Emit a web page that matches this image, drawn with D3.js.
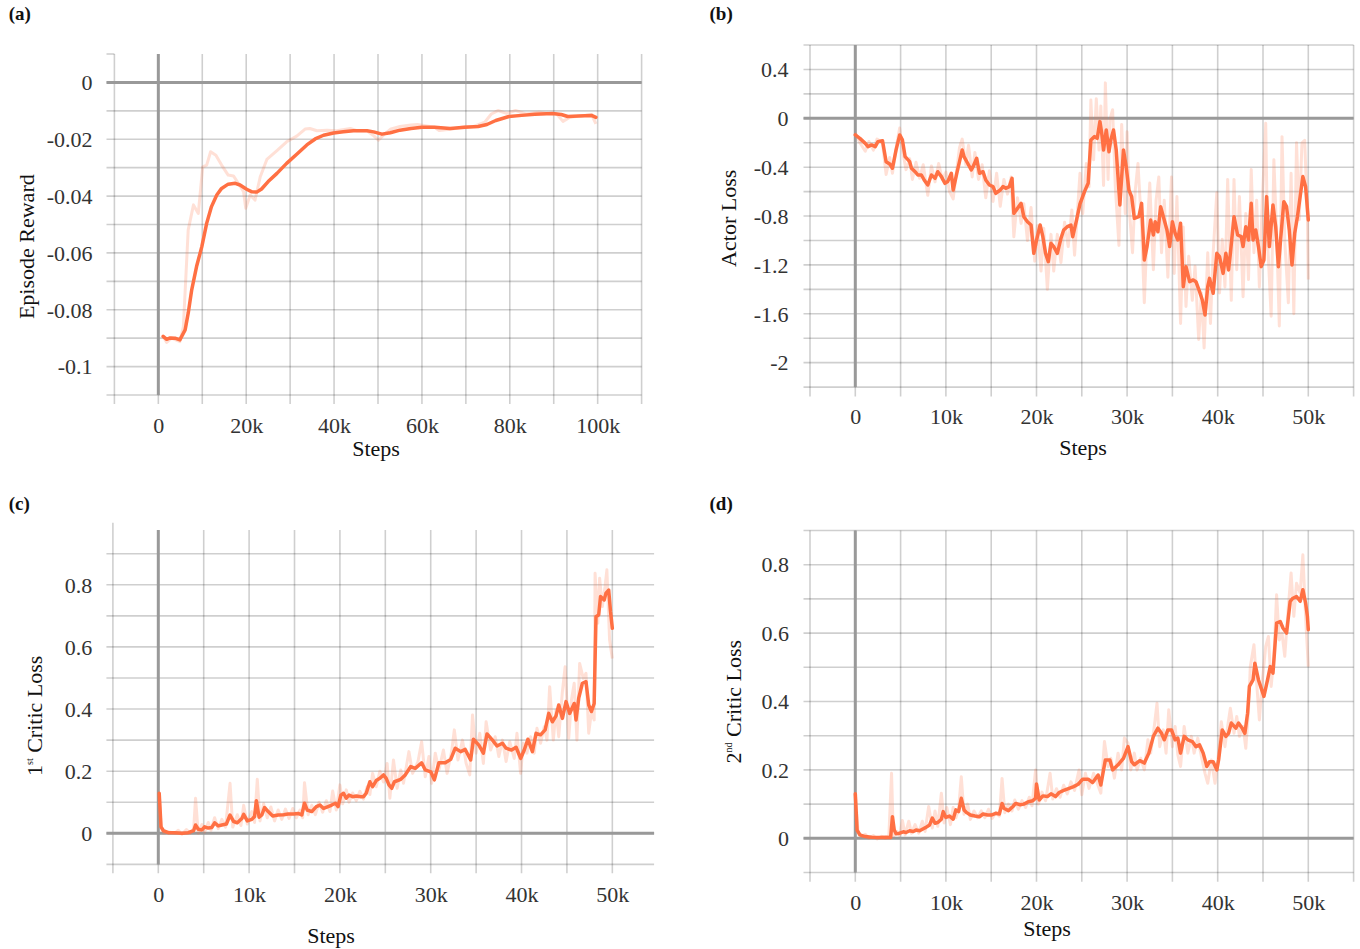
<!DOCTYPE html>
<html><head><meta charset="utf-8">
<script src="https://cdn.jsdelivr.net/npm/d3@7"></script>
<style>html,body{margin:0;padding:0;background:#fff;} svg{display:block;} svg text{font-family:'Liberation Serif','Times New Roman',Times,serif;}</style>
</head><body>
<svg id="chart" width="1360" height="949"></svg>
<script>
// ---------------- DATA (steps in thousands) ----------------
const smoothA = [[1.1,-0.0894],[1.9,-0.0904],[2.7,-0.0899],[3.8,-0.090],[4.9,-0.0906],[6.1,-0.0871],[6.8,-0.0812],[7.6,-0.073],[8.7,-0.0648],[9.9,-0.0578],[11,-0.0496],[12.1,-0.0437],[13.3,-0.0396],[14.4,-0.0373],[15.9,-0.0358],[17.5,-0.0355],[18.6,-0.0361],[20.1,-0.0376],[21.3,-0.0385],[22.4,-0.0386],[23.5,-0.0375],[25,-0.0349],[27,-0.032],[29.2,-0.0285],[31.5,-0.0253],[33.8,-0.022],[35.7,-0.0199],[37.6,-0.0186],[39.9,-0.0178],[42.1,-0.0174],[44.4,-0.017],[47.5,-0.017],[49,-0.0174],[50.9,-0.0182],[52.8,-0.0177],[55,-0.0168],[57.5,-0.0162],[60,-0.0158],[62.9,-0.0158],[66.4,-0.0162],[69.8,-0.0158],[72.8,-0.0155],[74.8,-0.0148],[76.8,-0.0134],[79.8,-0.012],[82.7,-0.0116],[85.7,-0.0112],[89.7,-0.0109],[91.7,-0.0113],[93.2,-0.012],[95.6,-0.0118],[98.6,-0.0116],[99.6,-0.0123]];
const rawA = [[1.1,-0.0894],[1.9,-0.0915],[3,-0.090],[4.9,-0.0912],[5.7,-0.0859],[6.8,-0.0519],[8,-0.0431],[9.1,-0.0461],[10.1,-0.0297],[11,-0.0291],[11.9,-0.0244],[13.1,-0.0256],[14.4,-0.0291],[15.9,-0.0326],[17.1,-0.0329],[18.2,-0.0355],[19.4,-0.0385],[19.9,-0.0443],[20.9,-0.0396],[22,-0.0414],[23.2,-0.0332],[24.7,-0.0271],[27,-0.024],[29.2,-0.0209],[31.5,-0.0189],[33.4,-0.0164],[34.5,-0.0162],[36.1,-0.017],[38.4,-0.0168],[40.6,-0.017],[43.7,-0.0162],[45.2,-0.017],[47.5,-0.017],[48.8,-0.0185],[50.1,-0.0203],[51.3,-0.0185],[52.8,-0.0165],[55,-0.0155],[57.5,-0.015],[59,-0.0148],[62.9,-0.0158],[63.9,-0.0169],[66.9,-0.0164],[69.8,-0.0155],[71.8,-0.0155],[74.3,-0.014],[75.8,-0.0111],[77.3,-0.0099],[79.3,-0.0109],[81.3,-0.0099],[83.7,-0.0111],[86.7,-0.0105],[88.7,-0.0109],[90.7,-0.0111],[92.1,-0.0137],[93.6,-0.0123],[96.6,-0.0117],[98.6,-0.0113],[99.6,-0.0146]];

const smoothB = [[0,-0.136],[0.5,-0.164],[1.1,-0.205],[1.4,-0.232],[1.8,-0.218],[2.2,-0.232],[2.5,-0.191],[3,-0.183],[3.4,-0.355],[3.8,-0.374],[4.1,-0.409],[4.5,-0.259],[4.9,-0.136],[5.2,-0.177],[5.5,-0.314],[6,-0.355],[6.2,-0.409],[6.6,-0.437],[6.9,-0.464],[7.3,-0.464],[7.6,-0.505],[8,-0.546],[8.4,-0.464],[8.8,-0.491],[9.1,-0.437],[9.5,-0.477],[9.9,-0.532],[10.2,-0.518],[10.6,-0.45],[10.8,-0.587],[11.2,-0.45],[11.5,-0.355],[11.8,-0.259],[12,-0.314],[12.4,-0.368],[12.8,-0.423],[13,-0.396],[13.4,-0.327],[13.7,-0.45],[14.1,-0.437],[14.4,-0.505],[14.8,-0.546],[15.2,-0.559],[15.5,-0.614],[16,-0.587],[16.3,-0.559],[16.6,-0.573],[17,-0.559],[17.3,-0.491],[17.5,-0.778],[17.9,-0.737],[18.3,-0.696],[18.6,-0.805],[19,-0.846],[19.4,-0.873],[19.7,-1.105],[20,-1.0],[20.4,-0.873],[20.7,-0.969],[21,-1.105],[21.3,-1.173],[21.6,-1.023],[21.9,-1.05],[22.3,-1.105],[22.7,-0.982],[23,-0.914],[23.4,-0.887],[23.8,-0.873],[24,-0.969],[24.4,-0.84],[24.8,-0.7],[25.3,-0.6],[25.7,-0.532],[26,-0.177],[26.4,-0.15],[26.7,-0.164],[27,-0.027],[27.2,-0.123],[27.4,-0.259],[27.7,-0.095],[28,-0.273],[28.2,-0.177],[28.5,-0.095],[28.8,-0.259],[29.2,-0.709],[29.6,-0.259],[29.9,-0.396],[30.2,-0.587],[30.5,-0.641],[30.8,-0.819],[31.3,-0.805],[31.6,-0.696],[31.9,-1.16],[32.2,-1.05],[32.6,-0.832],[32.9,-0.955],[33.1,-0.846],[33.4,-0.928],[33.7,-0.723],[34.1,-0.832],[34.4,-0.914],[34.7,-1.05],[35,-0.846],[35.3,-0.941],[35.6,-0.996],[35.9,-0.859],[36.2,-1.378],[36.5,-1.214],[36.9,-1.337],[37.3,-1.323],[37.6,-1.337],[38,-1.419],[38.3,-1.487],[38.6,-1.61],[38.9,-1.378],[39.1,-1.31],[39.5,-1.432],[39.9,-1.105],[40.2,-1.132],[40.6,-1.269],[40.9,-1.105],[41.2,-1.241],[41.4,-1.105],[41.8,-0.805],[42.2,-0.955],[42.6,-0.969],[42.8,-1.05],[43.1,-0.887],[43.4,-0.996],[43.7,-0.696],[43.9,-0.996],[44.2,-0.914],[44.5,-1.05],[44.8,-1.214],[45.1,-1.16],[45.4,-0.641],[45.7,-1.05],[46.1,-0.709],[46.4,-0.887],[46.7,-1.214],[47,-0.941],[47.3,-0.682],[47.6,-0.723],[47.9,-0.914],[48.2,-1.2],[48.5,-0.941],[48.8,-0.805],[49.1,-0.641],[49.4,-0.477],[49.7,-0.559],[50,-0.832]];
const rawB = [[0,-0.12],[0.5,-0.2],[1.1,-0.27],[1.5,-0.19],[2,-0.26],[2.4,-0.17],[3,-0.2],[3.4,-0.46],[3.8,-0.32],[4.1,-0.45],[4.6,-0.2],[4.9,-0.08],[5.3,-0.3],[5.6,-0.42],[6,-0.33],[6.3,-0.5],[6.7,-0.36],[7.1,-0.49],[7.5,-0.38],[8,-0.63],[8.4,-0.39],[8.8,-0.52],[9.2,-0.37],[9.6,-0.5],[10,-0.44],[10.4,-0.6],[10.8,-0.66],[11.2,-0.42],[11.5,-0.24],[11.8,-0.17],[12.2,-0.38],[12.5,-0.22],[12.9,-0.48],[13.2,-0.28],[13.6,-0.5],[14,-0.38],[14.4,-0.65],[14.8,-0.43],[15.2,-0.68],[15.6,-0.45],[16,-0.72],[16.4,-0.5],[16.8,-0.62],[17.2,-0.48],[17.5,-0.97],[17.9,-0.65],[18.3,-0.86],[18.6,-0.7],[19,-1.0],[19.4,-0.73],[19.8,-1.17],[20.1,-0.88],[20.5,-1.25],[20.8,-0.9],[21.2,-1.4],[21.6,-0.95],[21.9,-1.25],[22.3,-0.95],[22.7,-1.18],[23.1,-0.85],[23.5,-1.05],[23.9,-0.75],[24.2,-1.12],[24.8,-0.45],[25.1,-0.78],[25.5,-0.37],[25.8,-0.56],[26,0.15],[26.3,-0.34],[26.6,0.16],[26.9,-0.26],[27.1,0.1],[27.4,-0.55],[27.6,0.29],[27.9,-0.5],[28.1,-0.01],[28.4,0.07],[28.7,-0.56],[29.1,-1.04],[29.4,-0.05],[29.8,-0.78],[30,-0.11],[30.3,-0.8],[30.6,-1.1],[30.9,-0.59],[31.2,-0.37],[31.6,-0.89],[31.9,-1.51],[32.2,-0.94],[32.5,-0.53],[32.9,-1.24],[33.2,-0.67],[33.5,-0.48],[33.8,-1.1],[34.1,-0.67],[34.5,-1.3],[34.9,-0.48],[35.2,-1.27],[35.5,-0.64],[35.9,-1.68],[36.2,-0.89],[36.5,-1.54],[36.8,-1.13],[37.2,-1.49],[37.5,-1.21],[37.9,-1.81],[38.2,-1.43],[38.5,-1.88],[38.9,-1.1],[39.2,-1.68],[39.5,-1.1],[39.9,-0.61],[40.2,-1.43],[40.5,-0.99],[40.8,-1.38],[41.1,-0.5],[41.5,-1.49],[41.8,-0.5],[42.1,-1.24],[42.4,-0.64],[42.8,-1.46],[43.1,-0.78],[43.4,-1.32],[43.7,-0.42],[44,-1.1],[44.3,-0.67],[44.6,-1.38],[44.9,-0.72],[45.3,-0.04],[45.5,-1.0],[45.9,-1.62],[46.2,-0.34],[46.5,-0.94],[46.8,-1.7],[47.1,-0.15],[47.4,-1.0],[47.8,-1.51],[48.1,-0.45],[48.4,-1.6],[48.7,-0.2],[49,-0.83],[49.3,-0.2],[49.6,-0.18],[49.9,-0.78],[50,-1.32]];

const smoothC = [[0.1,0.129],[0.3,0.021],[0.55,0.009],[1.1,0.002],[1.8,0.002],[2.6,0.0],[3.3,0.002],[3.9,0.009],[4.1,0.027],[4.4,0.013],[4.8,0.011],[5.1,0.021],[5.5,0.017],[5.9,0.019],[6.2,0.034],[6.6,0.024],[7,0.027],[7.5,0.03],[7.9,0.059],[8.3,0.038],[8.7,0.034],[9.2,0.048],[9.4,0.061],[9.8,0.04],[10.3,0.045],[10.6,0.054],[10.8,0.105],[11.1,0.052],[11.4,0.059],[11.7,0.083],[12.1,0.07],[12.6,0.056],[13.2,0.059],[13.8,0.06],[14.3,0.062],[14.9,0.062],[15.4,0.064],[15.8,0.059],[16.1,0.097],[16.4,0.075],[16.9,0.07],[17.4,0.086],[17.8,0.091],[18.2,0.08],[18.7,0.086],[19.1,0.091],[19.5,0.097],[19.8,0.086],[20.1,0.123],[20.4,0.129],[20.7,0.113],[21,0.123],[21.4,0.118],[21.8,0.12],[22.3,0.118],[22.6,0.118],[22.9,0.129],[23.3,0.166],[23.6,0.15],[24,0.17],[24.4,0.177],[24.8,0.188],[25.1,0.177],[25.4,0.156],[25.7,0.145],[26,0.166],[26.7,0.174],[27.2,0.188],[27.8,0.215],[28.3,0.209],[29,0.227],[29.4,0.204],[30,0.198],[30.4,0.172],[30.9,0.227],[31.6,0.227],[32.2,0.238],[32.7,0.274],[33.3,0.263],[33.8,0.27],[34.4,0.236],[34.7,0.303],[35.3,0.284],[35.8,0.258],[36.2,0.32],[36.8,0.3],[37.3,0.281],[37.9,0.29],[38.3,0.274],[38.9,0.268],[39.4,0.277],[39.9,0.241],[40.3,0.268],[40.7,0.303],[41.2,0.263],[41.6,0.322],[42.1,0.317],[42.6,0.333],[43,0.386],[43.4,0.359],[43.8,0.378],[44.1,0.413],[44.5,0.37],[44.9,0.424],[45.3,0.386],[45.8,0.418],[46,0.365],[46.3,0.435],[46.7,0.483],[47.1,0.488],[47.4,0.413],[47.7,0.392],[48,0.418],[48.2,0.697],[48.5,0.703],[48.7,0.762],[49.1,0.751],[49.3,0.773],[49.6,0.783],[49.8,0.714],[50,0.66]];
const rawC = [[0.1,0.13],[0.3,0.02],[0.6,0.0],[1.2,0.004],[1.8,0.0],[2.2,0.01],[2.6,-0.003],[3.1,0.012],[3.5,0.0],[3.9,0.015],[4.1,0.113],[4.4,0.0],[4.8,0.028],[5.1,0.004],[5.5,0.035],[5.8,0.01],[6.2,0.05],[6.6,0.015],[7,0.045],[7.4,0.02],[7.9,0.161],[8.2,0.02],[8.7,0.06],[9.1,0.025],[9.4,0.09],[9.8,0.03],[10.3,0.07],[10.6,0.035],[10.9,0.174],[11.2,0.04],[11.6,0.095],[12,0.05],[12.4,0.085],[12.8,0.04],[13.2,0.075],[13.6,0.045],[14,0.078],[14.4,0.048],[14.8,0.08],[15.2,0.05],[15.6,0.075],[15.9,0.05],[16.1,0.163],[16.5,0.06],[16.9,0.09],[17.3,0.06],[17.7,0.1],[18.1,0.068],[18.5,0.105],[18.9,0.07],[19.2,0.136],[19.6,0.075],[20,0.156],[20.3,0.095],[20.7,0.14],[21,0.1],[21.4,0.13],[21.8,0.105],[22.2,0.135],[22.6,0.11],[23,0.15],[23.3,0.125],[23.6,0.193],[24,0.15],[24.4,0.2],[24.8,0.165],[25.2,0.225],[25.5,0.113],[25.9,0.236],[26.3,0.145],[26.7,0.204],[27,0.161],[27.6,0.263],[28,0.193],[28.6,0.231],[29,0.295],[29.4,0.182],[29.8,0.247],[30.1,0.161],[30.5,0.258],[30.9,0.204],[31.4,0.268],[31.8,0.193],[32.3,0.263],[32.6,0.333],[33,0.236],[33.5,0.3],[33.9,0.225],[34.3,0.188],[34.6,0.381],[35,0.258],[35.4,0.322],[35.8,0.225],[36.1,0.359],[36.6,0.268],[37.1,0.311],[37.5,0.247],[37.9,0.3],[38.3,0.231],[38.7,0.295],[39.2,0.241],[39.5,0.322],[39.9,0.193],[40.2,0.29],[40.6,0.258],[41,0.311],[41.4,0.258],[41.7,0.338],[42.1,0.29],[42.5,0.343],[42.8,0.3],[43.1,0.472],[43.5,0.3],[43.8,0.397],[44.1,0.311],[44.5,0.456],[44.8,0.536],[45.2,0.306],[45.5,0.429],[45.8,0.483],[46.1,0.3],[46.4,0.547],[46.8,0.499],[47.1,0.515],[47.4,0.322],[47.7,0.392],[48,0.365],[48.1,0.837],[48.4,0.676],[48.6,0.821],[48.9,0.73],[49.2,0.794],[49.4,0.848],[49.7,0.622],[50,0.563]];

const smoothD = [[0,0.13],[0.2,0.024],[0.5,0.01],[1.1,0.005],[1.8,0.003],[2.7,0.002],[3.4,0.003],[3.9,0.002],[4.1,0.063],[4.3,0.024],[4.5,0.013],[4.9,0.015],[5.3,0.019],[5.6,0.017],[6,0.022],[6.4,0.02],[6.7,0.024],[7.1,0.022],[7.5,0.028],[7.8,0.032],[8.2,0.039],[8.5,0.059],[8.8,0.044],[9.1,0.046],[9.5,0.056],[9.7,0.078],[10,0.061],[10.4,0.065],[10.8,0.056],[11.1,0.083],[11.4,0.078],[11.7,0.117],[12,0.083],[12.3,0.075],[12.7,0.068],[13.2,0.065],[13.7,0.063],[14.1,0.071],[14.6,0.068],[15,0.068],[15.5,0.073],[15.9,0.071],[16.2,0.102],[16.4,0.088],[16.9,0.081],[17.4,0.093],[17.7,0.102],[18.2,0.098],[18.6,0.1],[19.1,0.107],[19.6,0.11],[19.9,0.117],[20,0.159],[20.3,0.112],[20.7,0.124],[21.2,0.122],[21.6,0.13],[22.1,0.122],[22.5,0.134],[23,0.14],[23.6,0.146],[24.1,0.151],[24.6,0.158],[25.1,0.173],[25.7,0.173],[26.2,0.163],[26.8,0.185],[27.1,0.156],[27.6,0.229],[28.1,0.229],[28.4,0.2],[29,0.215],[29.6,0.234],[30.1,0.268],[30.5,0.224],[30.8,0.215],[31.4,0.227],[31.9,0.22],[32.4,0.249],[32.9,0.298],[33.4,0.322],[33.8,0.307],[34.1,0.288],[34.5,0.317],[34.9,0.317],[35.3,0.288],[35.6,0.293],[35.9,0.249],[36.3,0.298],[36.7,0.288],[37.2,0.283],[37.6,0.268],[38,0.273],[38.4,0.249],[38.8,0.21],[39.1,0.224],[39.5,0.224],[39.9,0.2],[40.1,0.229],[40.5,0.317],[40.9,0.298],[41.2,0.307],[41.5,0.337],[42,0.322],[42.3,0.337],[42.7,0.322],[43,0.307],[43.3,0.366],[43.5,0.444],[43.9,0.463],[44.1,0.512],[44.5,0.463],[44.8,0.439],[45.1,0.415],[45.5,0.463],[45.8,0.502],[46.1,0.483],[46.5,0.629],[46.9,0.634],[47.2,0.615],[47.6,0.6],[48,0.693],[48.3,0.702],[48.7,0.707],[49.1,0.693],[49.4,0.727],[49.7,0.688],[49.9,0.649],[50,0.61]];
const rawD = [[0,0.13],[0.3,0.02],[0.7,0.005],[1.1,0.012],[1.5,0.0],[2,0.008],[2.4,-0.002],[2.9,0.006],[3.3,0.0],[3.7,0.005],[4.0,0.19],[4.2,0.005],[4.6,0.02],[4.9,0.008],[5.2,0.052],[5.5,0.01],[5.9,0.05],[6.2,0.015],[6.6,0.04],[7,0.015],[7.4,0.05],[7.7,0.02],[8.1,0.093],[8.5,0.03],[8.8,0.08],[9.1,0.035],[9.5,0.132],[9.8,0.045],[10.1,0.09],[10.5,0.04],[10.8,0.09],[11.1,0.06],[11.4,0.085],[11.7,0.18],[12,0.07],[12.4,0.1],[12.7,0.055],[13.1,0.08],[13.5,0.06],[13.9,0.08],[14.3,0.06],[14.7,0.085],[15.1,0.058],[15.5,0.075],[15.9,0.065],[16.2,0.175],[16.5,0.075],[16.9,0.1],[17.3,0.08],[17.6,0.112],[18,0.085],[18.4,0.11],[18.8,0.09],[19.2,0.12],[19.5,0.095],[19.9,0.2],[20.2,0.1],[20.6,0.135],[21,0.11],[21.5,0.19],[21.8,0.115],[22.2,0.145],[22.6,0.12],[23,0.155],[23.4,0.13],[23.8,0.165],[24.2,0.14],[24.7,0.2],[25,0.127],[25.4,0.19],[25.8,0.146],[26.3,0.19],[26.7,0.161],[27.1,0.132],[27.5,0.283],[27.9,0.21],[28.2,0.234],[28.6,0.176],[29,0.249],[29.4,0.2],[29.7,0.293],[30.1,0.278],[30.4,0.2],[30.8,0.249],[31.1,0.2],[31.5,0.234],[31.9,0.2],[32.3,0.288],[32.6,0.249],[33,0.327],[33.3,0.395],[33.6,0.268],[34,0.317],[34.3,0.249],[34.6,0.376],[35,0.268],[35.3,0.327],[35.6,0.244],[35.9,0.21],[36.3,0.327],[36.7,0.249],[37.1,0.298],[37.4,0.249],[37.8,0.293],[38.2,0.239],[38.6,0.19],[38.9,0.161],[39.3,0.229],[39.7,0.161],[40,0.22],[40.4,0.341],[40.8,0.268],[41.1,0.327],[41.4,0.38],[41.8,0.307],[42.1,0.356],[42.4,0.298],[42.8,0.327],[43.1,0.263],[43.4,0.376],[43.6,0.502],[44,0.566],[44.3,0.454],[44.6,0.346],[44.9,0.454],[45.3,0.561],[45.6,0.59],[45.9,0.444],[46.2,0.527],[46.5,0.712],[46.8,0.58],[47.1,0.6],[47.4,0.532],[47.8,0.678],[48.1,0.776],[48.4,0.649],[48.7,0.746],[49.1,0.717],[49.4,0.829],[49.7,0.649],[50,0.502]];

// Tick values and labels
const xTicksA = [0,20,40,60,80,100];
const xTicksB = [0,10,20,30,40,50];
const yTicksA = [0,-0.02,-0.04,-0.06,-0.08,-0.1];
const yTicksB = [0.4,0,-0.4,-0.8,-1.2,-1.6,-2];
const yTicksC = [0,0.2,0.4,0.6,0.8];
const yTicksD = [0,0.2,0.4,0.6,0.8];
const xTitle = "Steps";
const panelTags = ["(a)","(b)","(c)","(d)"];
const titleA = [{t:"Episode Reward"}];
const titleB = [{t:"Actor Loss"}];
const titleC = [{t:"1"},{t:"st",sup:true},{t:" Critic Loss"}];
const titleD = [{t:"2"},{t:"nd",sup:true},{t:" Critic Loss"}];

// ---------------- LAYOUT ----------------
const FONT = "'Liberation Serif','Times New Roman',Times,serif";
const LINE = "#FF7043";
const svg = d3.select("#chart");

const fmtK = v => v === 0 ? "0" : v + "k";
const fmtY = v => v === 0 ? "0" : String(v);

const panels = [
  {tag:panelTags[0], tagX:8.7, tagY:20, smooth:smoothA, raw:rawA, title:titleA,
   xDomain:[-10,110], xRange:[114.4,641.6], yDomain:[0.01,-0.11], yRange:[54,395],
   vGrid:d3.range(-10,111,10), hGrid:d3.range(0,12).map(i=>-i/100), hTickOnly:[0.01],
   gridLeft:106.5, gridRight:641.6, vTop:54, vBottom:404, firstTop:54,
   xTicks:xTicksA, yTicks:yTicksA, yLabelX:92.5, xLabelY:432.5,
   stepsX:376, stepsY:456, titleX:33.5, titleY:246.7},
  {tag:panelTags[1], tagX:709.5, tagY:20, smooth:smoothB, raw:rawB, title:titleB,
   xDomain:[-5,55], xRange:[810,1353.6], yDomain:[0.6,-2.2], yRange:[45,387.1],
   vGrid:d3.range(-5,56,5), hGrid:d3.range(0,15).map(i=>0.6-0.2*i), hTickOnly:[],
   gridLeft:803.5, gridRight:1353.6, vTop:45, vBottom:396.5, firstTop:45,
   xTicks:xTicksB, yTicks:yTicksB, yLabelX:788.5, xLabelY:424,
   stepsX:1083, stepsY:455, titleX:736.4, titleY:218.3},
  {tag:panelTags[2], tagX:8.7, tagY:510, smooth:smoothC, raw:rawC, title:titleC,
   xDomain:[-5,54.6], xRange:[112.9,654.1], yDomain:[0.975,-0.1], yRange:[530.4,864.4],
   vGrid:d3.range(-5,51,5), hGrid:d3.range(0,11).map(i=>0.9-0.1*i), hTickOnly:[],
   gridLeft:106.4, gridRight:654.1, vTop:530, vBottom:873.3, firstTop:522.7,
   xTicks:xTicksB, yTicks:yTicksC, yLabelX:92.2, xLabelY:901.7,
   stepsX:331, stepsY:942.7, titleX:42.4, titleY:715.8},
  {tag:panelTags[3], tagX:709.5, tagY:510, smooth:smoothD, raw:rawD, title:titleD,
   xDomain:[-5,55], xRange:[810,1353.6], yDomain:[0.9,-0.1], yRange:[530.5,872.5],
   vGrid:d3.range(-5,56,5), hGrid:d3.range(0,11).map(i=>0.9-0.1*i), hTickOnly:[],
   gridLeft:803.5, gridRight:1353.6, vTop:530.5, vBottom:881.7, firstTop:530.5,
   xTicks:xTicksB, yTicks:yTicksD, yLabelX:789, xLabelY:910,
   stepsX:1047, stepsY:936, titleX:740.5, titleY:701.7}
];

panels.forEach(p => {
  const x = d3.scaleLinear().domain(p.xDomain).range(p.xRange);
  const y = d3.scaleLinear().domain(p.yDomain).range(p.yRange);
  const g = svg.append("g");
  const grid = g.append("g").attr("stroke","#000").attr("stroke-opacity",0.19).attr("stroke-width",1.6);

  grid.selectAll("line.h").data(p.hGrid).join("line")
    .attr("x1", p.gridLeft).attr("x2", p.gridRight)
    .attr("y1", d => y(d)).attr("y2", d => y(d));
  grid.selectAll("line.ht").data(p.hTickOnly).join("line")
    .attr("x1", p.gridLeft).attr("x2", x(p.xDomain[0]))
    .attr("y1", d => y(d)).attr("y2", d => y(d));
  grid.selectAll("line.v").data(p.vGrid).join("line")
    .attr("x1", d => x(d)).attr("x2", d => x(d))
    .attr("y1", (d,i) => i === 0 ? p.firstTop : p.vTop).attr("y2", p.vBottom);

  const yBot = y(p.hGrid[p.hGrid.length-1]);
  g.append("line").attr("x1", x(0)).attr("x2", x(0)).attr("y1", p.vTop).attr("y2", yBot)
    .attr("stroke","#999").attr("stroke-width",3);
  g.append("line").attr("x1", p.gridLeft).attr("x2", p.gridRight).attr("y1", y(0)).attr("y2", y(0))
    .attr("stroke","#999").attr("stroke-width",3);

  const line = d3.line().x(d => x(d[0])).y(d => y(d[1]));
  g.append("path").datum(p.raw).attr("d", line).attr("fill","none")
    .attr("stroke", LINE).attr("stroke-opacity",0.22).attr("stroke-width",3)
    .attr("stroke-linejoin","round");
  g.append("path").datum(p.smooth).attr("d", line).attr("fill","none")
    .attr("stroke", LINE).attr("stroke-width",3.5)
    .attr("stroke-linejoin","round").attr("stroke-linecap","round");

  const ya = g.append("g").attr("transform", `translate(${p.yLabelX},0)`)
    .call(d3.axisLeft(y).tickValues(p.yTicks).tickFormat(fmtY).tickSize(0).tickPadding(0));
  ya.select(".domain").remove();
  ya.attr("font-family", FONT).attr("font-size", 22);
  ya.selectAll("text").style("font-family", FONT).style("font-size","22px").attr("fill","#333").attr("dy","0.33em");

  const xa = g.append("g").attr("transform", `translate(0,${p.xLabelY})`)
    .call(d3.axisBottom(x).tickValues(p.xTicks).tickFormat(fmtK).tickSize(0).tickPadding(0));
  xa.select(".domain").remove();
  xa.attr("font-family", FONT).attr("font-size", 22);
  xa.selectAll("text").style("font-family", FONT).style("font-size","22px").attr("fill","#333").attr("dy","0").attr("y",0);

  g.append("text").attr("x", p.stepsX).attr("y", p.stepsY).attr("text-anchor","middle")
    .style("font-family", FONT).style("font-size","22px").attr("fill","#111").text(xTitle);

  const yt = g.append("text").attr("transform", `translate(${p.titleX},${p.titleY}) rotate(-90)`)
    .attr("text-anchor","middle").style("font-family", FONT).style("font-size","22px").attr("fill","#111");
  p.title.forEach((seg, i) => {
    const ts = yt.append("tspan").text(seg.t);
    if (seg.sup) ts.style("font-size","10px").attr("dy", -9);
    else if (i > 0 && p.title[i-1].sup) ts.attr("dy", 9);
  });

  g.append("text").attr("x", p.tagX).attr("y", p.tagY).style("font-family", FONT)
    .style("font-size","19px").attr("font-weight","bold").attr("fill","#111").text(p.tag);
});
</script>
</body></html>
